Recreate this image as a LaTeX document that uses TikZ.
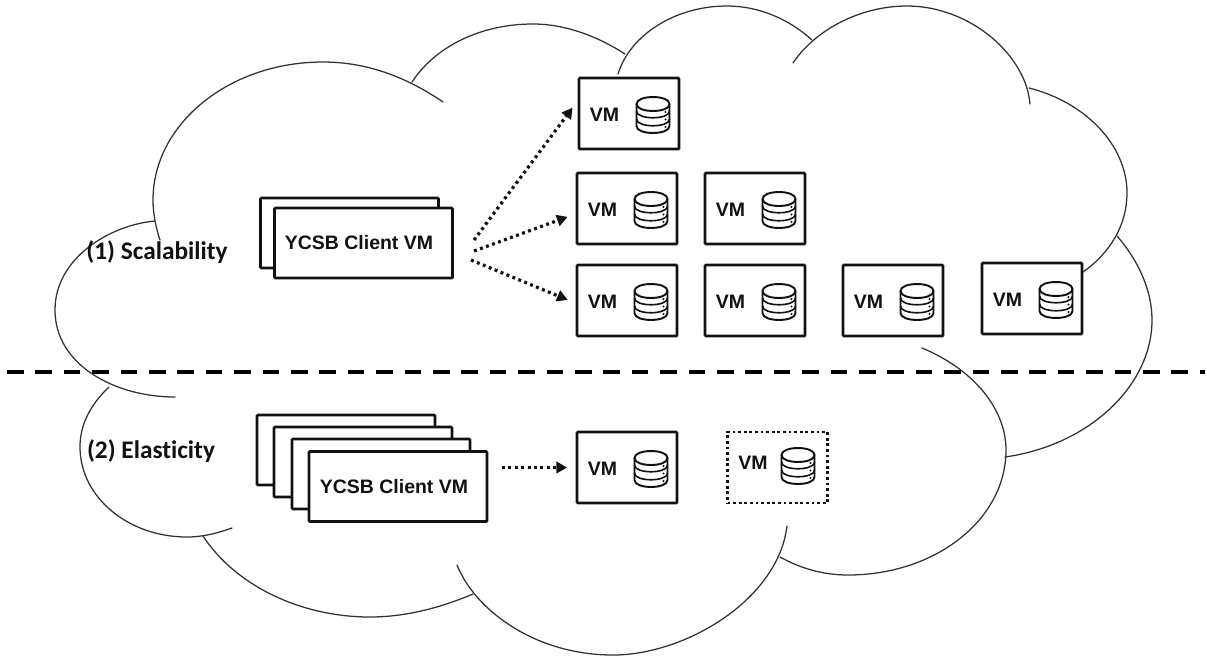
\documentclass[tikz,border=0pt]{standalone}
\usepackage{fontspec}
\setmainfont{Liberation Sans}
\newfontfamily\calibfont[Ligatures=NoCommon]{Carlito}
\usetikzlibrary{arrows.meta}
\definecolor{ink}{HTML}{111111}
\definecolor{cloudink}{HTML}{333333}
\tikzset{
  cloudarc/.style={draw=cloudink,line width=0.95pt,line cap=round},
  boxline/.style={draw=ink,fill=white,line width=1.9pt,rounded corners=0.6pt,inner sep=0pt},
  vmbox/.style={boxline,minimum width=75pt,minimum height=53.25pt},
  vmdotted/.style={draw=ink,line width=2.1pt,inner sep=0pt,minimum width=75pt,minimum height=53.25pt,dash pattern=on 2.1pt off 2.1pt},
  clientbox/.style={boxline,minimum width=133.5pt,minimum height=52.5pt},
  vmtext/.style={font=\fontsize{14.6pt}{16pt}\selectfont\bfseries,text=ink,inner sep=0pt},
  sectiontext/.style={font=\fontsize{19pt}{20pt}\calibfont\bfseries,text=ink,inner sep=0pt},
  dbline/.style={draw=ink,line width=1.45pt,line cap=round,line join=round},
  flowarrow/.style={draw=ink,line width=2.4pt,dash pattern=on 2.2pt off 2.6pt,shorten >=6.5pt,
     -{Triangle[length=8pt,width=8.5pt]}},
  divider/.style={draw=black,line width=3pt,dash pattern=on 12.5pt off 8.8pt},
}
\newcommand{\dbicon}[2]{%
  \begin{scope}[shift={(#1,#2)}]
    \draw[dbline] (-16.5,7) .. controls (-16.5,-2.3) and (16.5,-2.3) .. (16.5,7)
                  .. controls (16.5,16.3) and (-16.5,16.3) .. cycle;
    \draw[dbline] (-16.5,7) -- (-16.5,29) .. controls (-16.5,38.3) and (16.5,38.3) .. (16.5,29) -- (16.5,7);
    \draw[dbline,line width=1.2pt] (-16.5,14) .. controls (-16.5,23) and (16.5,23) .. (16.5,14);
    \draw[dbline,line width=1.2pt] (-16.5,22) .. controls (-16.5,31) and (16.5,31) .. (16.5,22);
    \fill[ink] (12.5,15) circle[radius=1.1] (12.5,22.5) circle[radius=1.1] (12.5,30) circle[radius=1.1];
  \end{scope}}
\newcommand{\vmunit}[3]{% name, left, top
  \node[vmbox] (#1) at ({#2+50},{#3+35.5}) {};
  \node[vmtext] (#1-label) at ({#2+25.5},{#3+36.5}) {VM};
  \dbicon{#2+74}{#3+19}}
\begin{document}
\begin{tikzpicture}[x=0.75pt,y=-0.75pt]
\useasboundingbox (0,0) rectangle (1207,658);
% cloud
\draw[cloudarc] (160,240) .. controls (156,228) and (153,214) .. (153,200)
  .. controls (153,124) and (229,62) .. (323,62)
  .. controls (368,62) and (408,78) .. (443,102);
\draw[cloudarc] (155,221) .. controls (110,225) and (55,258) .. (55,310)
  .. controls (55,365) and (115,397) .. (175,397);
\draw[cloudarc] (109,387) .. controls (90,405) and (80,425) .. (80,447)
  .. controls (80,497) and (128,537) .. (187,537)
  .. controls (203,537) and (218,533) .. (232,528);
\draw[cloudarc] (203,536) .. controls (235,585) and (300,617) .. (370,617)
  .. controls (405,617) and (440,608) .. (473,594);
\draw[cloudarc] (457,565) .. controls (475,610) and (535,655) .. (613,655)
  .. controls (685,655) and (778,600) .. (787,526);
\draw[cloudarc] (780,557) .. controls (800,568) and (822,575) .. (848,575)
  .. controls (935,575) and (1006,520) .. (1006,450)
  .. controls (1006,410) and (975,370) .. (922,348);
\draw[cloudarc] (1005,457) .. controls (1090,445) and (1152,385) .. (1152,320)
  .. controls (1152,290) and (1138,260) .. (1117,236);
\draw[cloudarc] (1083,272) .. controls (1110,253) and (1127,225) .. (1127,193)
  .. controls (1127,145) and (1085,102) .. (1029,88);
\draw[cloudarc] (1030,104) .. controls (1026,55) and (970,6) .. (907,6)
  .. controls (860,6) and (815,30) .. (793,63);
\draw[cloudarc] (618,74) .. controls (630,35) and (675,6) .. (727,6)
  .. controls (760,6) and (790,20) .. (812,40);
\draw[cloudarc] (412,82) .. controls (435,47) and (480,24) .. (533,24)
  .. controls (565,24) and (597,36) .. (625,54);
% divider
\coordinate (divL) at (7,372);
\coordinate (divR) at (1205,372);
\draw[divider] (divL) -- (divR);
% labels
\node[sectiontext] (scal) at (157,252) {(1) Scalability};
\node[sectiontext] (elas) at (151,451) {(2) Elasticity};
% client stacks
\node[clientbox] (c1back) at (349.5,233) {};
\node[clientbox] (c1front) at (363.5,243) {};
\node[vmtext] (c1text) at (359,243) {YCSB Client VM};
\node[clientbox] (c2a) at (346,450) {};
\node[clientbox] (c2b) at (363,462) {};
\node[clientbox] (c2c) at (381,474) {};
\node[clientbox] (c2d) at (398,486.5) {};
\node[vmtext] (c2text) at (394,487) {YCSB Client VM};
% VMs
\vmunit{vma}{579}{78}
\vmunit{vmb}{577}{173}
\vmunit{vmc}{705}{173}
\vmunit{vmd}{577}{265}
\vmunit{vme}{705}{265}
\vmunit{vmf}{843}{265}
\vmunit{vmg}{982}{263}
\vmunit{vmh}{577}{432}
\node[vmdotted] (vmi) at (777.5,467.5) {};
\node[vmtext] (vmi-label) at (753,463) {VM};
\dbicon{798}{448}
% connectors
\coordinate (s1) at (474,240);
\coordinate (s2) at (474,251);
\coordinate (s3) at (471,260);
\coordinate (s4) at (502,467.5);
\draw[flowarrow] (s1) -- (vma.166);
\draw[flowarrow] (s2) -- (vmb.186.5);
\draw[flowarrow] (s3) -- (vmd.183);
\draw[flowarrow] (s4) -- (vmh.west);
\end{tikzpicture}
\end{document}
